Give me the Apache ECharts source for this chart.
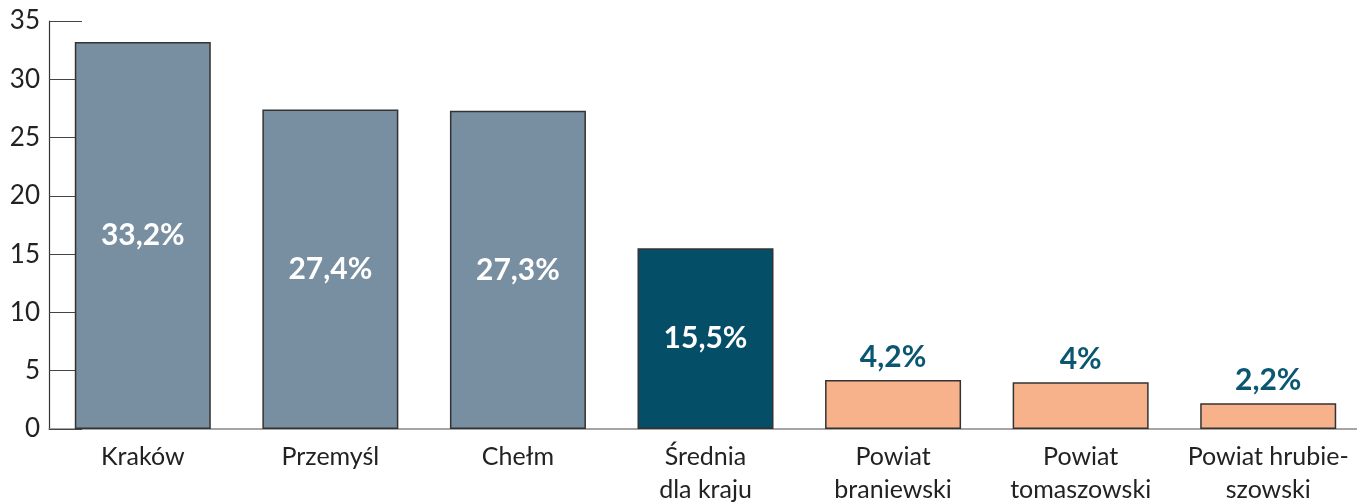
<!DOCTYPE html>
<html lang="pl">
<head>
    <meta charset="UTF-8">
    <title>Wykres</title>
    <style>
        html, body { margin: 0; height: 100%; background: #fff; }
        #main { width: 1357px; height: 502px; }
    </style>
    <script src="https://cdn.jsdelivr.net/npm/echarts@6/dist/echarts.min.js"></script>
</head>
<body>
    <div id="main"></div>
    <script>
        const categories = ['Kraków', 'Przemyśl', 'Chełm', 'Średnia\ndla kraju', 'Powiat\nbraniewski', 'Powiat\ntomaszowski', 'Powiat hrubie-\nszowski']
        const values = [33.2, 27.4, 27.3, 15.5, 4.2, 4, 2.2]
        // grupa: 0 = miasta, 1 = średnia, 2 = powiaty
        const groups = [0, 0, 0, 1, 2, 2, 2]

        const fills = ['#788ea1', '#054e68', '#f8b28b']
        const font = 'Lato, "Open Sans", sans-serif'

        const myChart = echarts.init(document.getElementById('main'))

        const data = values.map((v, i) => {
            const g = groups[i]
            const inside = g < 2
            return {
                value: v,
                itemStyle: { color: fills[g] },
                label: {
                    position: inside ? 'inside' : 'top',
                    distance: 8,
                    color: inside ? '#ffffff' : '#0b5670'
                }
            }
        })

        myChart.setOption({
            animation: false,
            grid: { left: 49, right: -5, top: 21, bottom: 73, outerBoundsMode: 'none', containLabel: false },
            xAxis: {
                type: 'category',
                data: categories,
                axisLine: { lineStyle: { color: '#888', width: 1.5 } },
                axisTick: { inside: true, length: 9, lineStyle: { color: '#555', width: 1.2 } },
                axisLabel: {
                    color: '#222',
                    fontSize: 25,
                    fontFamily: font,
                    lineHeight: 33,
                    margin: 11,
                    interval: 0
                }
            },
            yAxis: {
                type: 'value',
                min: 0,
                max: 35,
                interval: 5,
                splitLine: { show: false },
                axisLine: { show: true, lineStyle: { color: '#333', width: 1.2 } },
                axisTick: { show: true, inside: true, length: 33, lineStyle: { color: '#444', width: 1.2 } },
                axisLabel: {
                    color: '#222',
                    fontSize: 26,
                    fontFamily: font,
                    margin: 9
                }
            },
            series: [{
                type: 'bar',
                barWidth: 136,
                data: data,
                itemStyle: { borderColor: '#333', borderWidth: 1.5 },
                label: {
                    show: true,
                    fontSize: 30,
                    fontWeight: 'bold',
                    fontFamily: font,
                    formatter: p => String(p.value).replace('.', ',') + '%'
                }
            }]
        })
    </script>
</body>
</html>
